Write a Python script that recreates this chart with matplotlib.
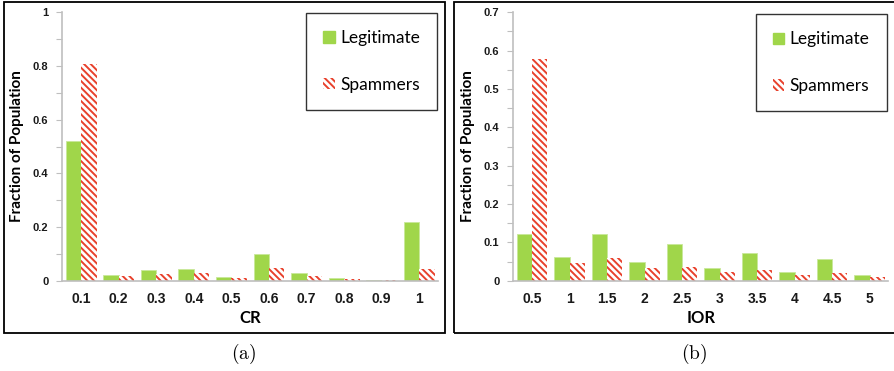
import matplotlib
matplotlib.use("Agg")
import matplotlib.pyplot as plt
from matplotlib.patches import Rectangle, Patch
from matplotlib.ticker import MultipleLocator, FuncFormatter
import numpy as np

# fraction of users per bin, legitimate vs spammers
cr_bins = ["0.1", "0.2", "0.3", "0.4", "0.5", "0.6", "0.7", "0.8", "0.9", "1"]
cr_legit = [0.52, 0.022, 0.040, 0.045, 0.014, 0.099, 0.029, 0.009, 0.002, 0.217]
cr_spam = [0.807, 0.019, 0.024, 0.029, 0.010, 0.047, 0.017, 0.005, 0.001, 0.042]

ior_bins = ["0.5", "1", "1.5", "2", "2.5", "3", "3.5", "4", "4.5", "5"]
ior_legit = [0.123, 0.063, 0.121, 0.050, 0.095, 0.033, 0.073, 0.022, 0.057, 0.015]
ior_spam = [0.578, 0.046, 0.059, 0.034, 0.036, 0.023, 0.029, 0.015, 0.021, 0.010]

GREEN = "#a0d64a"
RED = "#e8412c"
AXGREY = "#bfbfbf"

plt.rcParams["hatch.linewidth"] = 1.4
plt.rcParams["mathtext.fontset"] = "cm"
# tick labels in bold Arial-like type
plt.rcParams["font.family"] = "Liberation Sans"
plt.rcParams["font.weight"] = "bold"
plt.rcParams["xtick.color"] = "#1a1a1a"
plt.rcParams["ytick.color"] = "#1a1a1a"

fig = plt.figure(figsize=(8.94, 3.71), dpi=100)


def panel(rect, cats, legit, spam, xlabel, ymax, major, minor, caption, box):
    ax = fig.add_axes(rect)
    x = np.arange(len(cats))
    w = 0.41
    ax.bar(x - w / 2, legit, w, color=GREEN, edgecolor="#c8e89a", linewidth=0.6)
    ax.bar(x + w / 2, spam, w, facecolor="white", edgecolor=RED,
           hatch="\\\\\\\\\\", linewidth=0)
    ax.set_xlim(-0.5, len(cats) - 0.5)
    ax.set_ylim(0, ymax)
    ax.set_xticks(x)
    ax.set_xticklabels(cats)
    ax.tick_params(axis="x", length=0, pad=8, labelsize=10)
    ax.yaxis.set_major_locator(MultipleLocator(major))
    ax.yaxis.set_minor_locator(MultipleLocator(minor))
    ax.yaxis.set_major_formatter(FuncFormatter(lambda v, p: "%g" % round(v, 2)))
    ax.tick_params(axis="y", which="both", length=4, color=AXGREY, width=0.8,
                   pad=6, labelsize=8, labelcolor="#1a1a1a")
    for s in ["top", "right"]:
        ax.spines[s].set_visible(False)
    for s in ["left", "bottom"]:
        ax.spines[s].set_color(AXGREY)
        ax.spines[s].set_linewidth(1.2)
    ax.set_xlabel(xlabel, fontsize=12, fontweight="bold", family="Lato", labelpad=3)
    ax.set_ylabel("Fraction of Population", fontsize=11, fontweight="bold",
                  family="Lato", labelpad=6)

    handles = [Patch(facecolor=GREEN, edgecolor=GREEN),
               Patch(facecolor="white", edgecolor=RED, hatch="\\\\\\\\\\", linewidth=0)]
    leg = ax.legend(handles, ["Legitimate", "Spammers"], loc="upper right",
                    bbox_to_anchor=box, bbox_transform=fig.transFigure,
                    prop={"family": "Lato", "weight": "normal", "size": 12.5},
                    frameon=True, fancybox=False, edgecolor="black",
                    handlelength=0.65, handleheight=0.65, handletextpad=0.3,
                    labelspacing=1.75, borderpad=1.0, borderaxespad=0)
    leg.get_frame().set_linewidth(1.0)

    fig.text(rect[0] + rect[2] / 2 - 0.008, 0.045, r"$\mathrm{(%s)}$" % caption,
             fontsize=14, ha="center", va="center")


panel([0.0697, 0.2434, 0.4203, 0.7234], cr_bins, cr_legit, cr_spam, "CR",
      1.0, 0.2, 0.1, "a", (0.489, 0.965))
panel([0.5742, 0.2434, 0.4194, 0.7234], ior_bins, ior_legit, ior_spam, "IOR",
      0.7, 0.1, 0.05, "b", (0.992, 0.962))

# frames around each panel
for x0, x1 in [(4, 445), (454, 896)]:
    fig.patches.append(Rectangle((x0 / 894, 1 - 332.5 / 371), (x1 - x0) / 894,
                                 (332.5 - 2) / 371, transform=fig.transFigure,
                                 fill=False, edgecolor="black", linewidth=1.3))

fig.savefig("out.png", dpi=100)
